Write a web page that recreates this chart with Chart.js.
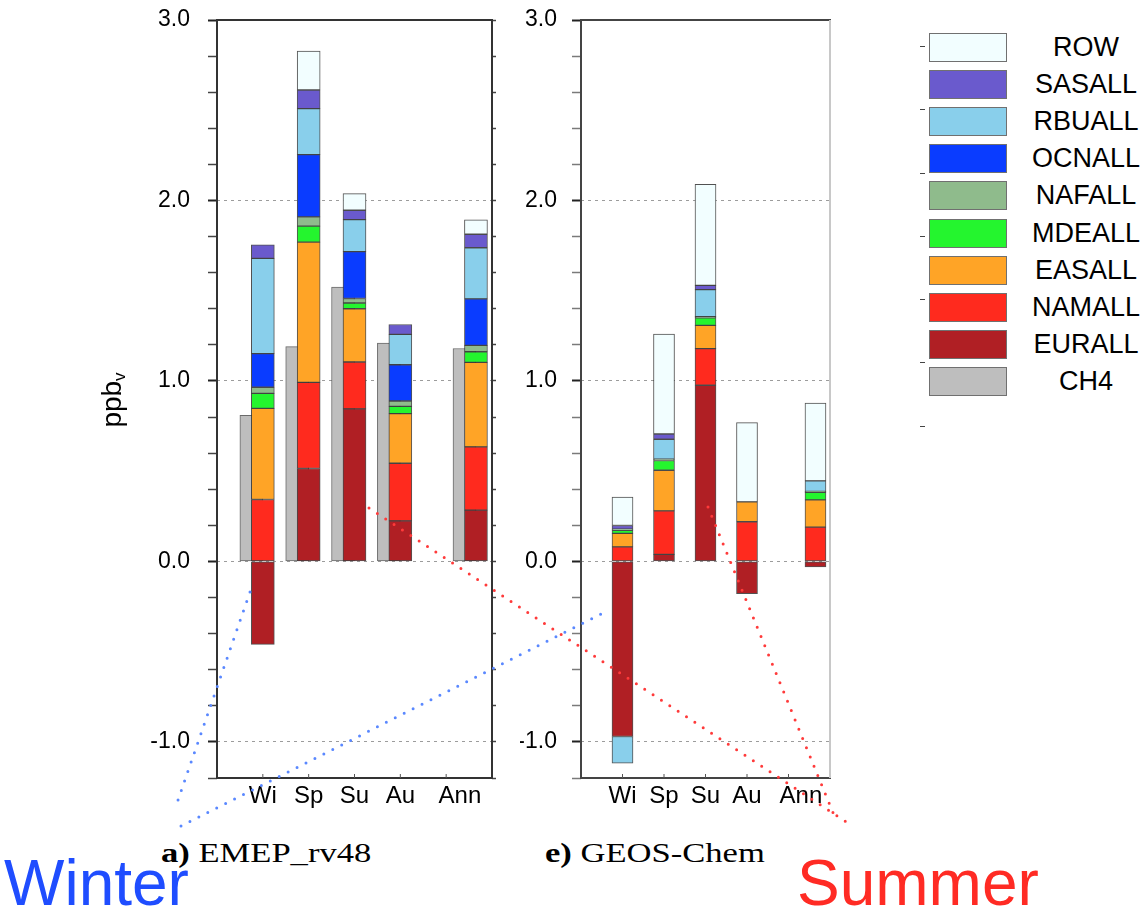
<!DOCTYPE html>
<html><head><meta charset="utf-8">
<script src="https://cdn.jsdelivr.net/npm/chart.js@4.4.1/dist/chart.umd.min.js"></script>
<style>
html,body{margin:0;padding:0;background:#fff;}
#wrap{position:relative;width:1148px;height:912px;overflow:hidden;font-family:'Liberation Sans',Arial,sans-serif;color:#000;}
canvas{position:absolute;top:0;}
#c1{left:130px;}
#c2{left:520px;}
.cap{position:absolute;top:840px;font-family:'Liberation Serif','Times New Roman',serif;font-size:27px;line-height:27px;white-space:nowrap;transform-origin:0 0;transform:scaleX(1.28);}
.big{position:absolute;top:851px;font-size:64px;line-height:64px;white-space:nowrap;}
#ylab{position:absolute;left:116px;top:400px;transform:translate(-50%,-50%) rotate(-90deg);font-size:28px;line-height:30px;white-space:nowrap;}
#ylab sub{font-size:17px;vertical-align:-4px;}
.lbox{position:absolute;left:929px;width:76px;height:27px;border:1.5px solid #707070;box-sizing:content-box;}
.ltxt{position:absolute;left:1026px;width:120px;text-align:center;font-size:27px;line-height:29px;}
.ldash{position:absolute;left:920px;width:5px;height:1px;background:#444;}
svg{position:absolute;left:0;top:0;}
</style></head>
<body><div id="wrap">
<canvas id="c1" width="380" height="830"></canvas>
<canvas id="c2" width="320" height="830"></canvas>
<div id="ylab">ppb<sub>v</sub></div>
<div class="cap" style="left:161px"><b>a)</b> EMEP_rv48</div>
<div class="cap" style="left:545px"><b>e)</b> GEOS-Chem</div>
<div class="big" style="left:4px;color:#1f4dff">Winter</div>
<div class="big" style="left:797px;color:#ff2b24">Summer</div>
<div id="legend"></div>
<svg width="1148" height="912">
  <g fill="none" stroke-width="3" stroke-linecap="round" stroke-dasharray="0 10">
    <line x1="250" y1="592" x2="178" y2="800" stroke="#5a88ff"/>
    <line x1="181" y1="826" x2="601" y2="614" stroke="#5a88ff"/>
    <line x1="369" y1="508" x2="851" y2="825" stroke="#ff3a3a"/>
    <line x1="708" y1="507" x2="834" y2="815" stroke="#ff3a3a"/>
  </g>
</svg>
</div>
<script>
// ---- categories ----
const seasons = ['Wi','Sp','Su','Au','Ann'];
const seasonPos = [1, 2, 3, 4, 5.65];      // category location on the x axis
const labelPos = [1, 2, 3, 4, 5.3];        // where the category names are written
const sources = ['EURALL','NAMALL','EASALL','MDEALL','NAFALL','OCNALL','RBUALL','SASALL','ROW'];
const yMajor = [-1, 0, 1, 2, 3];

// ---- EMEP_rv48 (ppbv) ----
const emep_CH4    = [0.81, 1.19, 1.52, 1.21, 1.18];
const emep_EURALL = [-0.46, 0.515, 0.845, 0.225, 0.284];
const emep_NAMALL = [0.343, 0.477, 0.26, 0.319, 0.351];
const emep_EASALL = [0.505, 0.777, 0.295, 0.275, 0.468];
const emep_MDEALL = [0.083, 0.089, 0.032, 0.04, 0.059];
const emep_NAFALL = [0.034, 0.051, 0.025, 0.03, 0.035];
const emep_OCNALL = [0.186, 0.345, 0.26, 0.201, 0.258];
const emep_RBUALL = [0.528, 0.255, 0.177, 0.168, 0.283];
const emep_SASALL = [0.075, 0.103, 0.052, 0.055, 0.075];
const emep_ROW    = [0, 0.216, 0.092, 0, 0.08];

// ---- GEOS-Chem (ppbv) ----
const geos_EURALL = [-0.97, 0.039, 0.976, -0.179, -0.03];
const geos_NAMALL = [0.081, 0.241, 0.203, 0.22, 0.19];
const geos_EASALL = [0.074, 0.225, 0.129, 0.11, 0.151];
const geos_MDEALL = [0.018, 0.054, 0.042, 0, 0.042];
const geos_NAFALL = [0.006, 0.008, 0.006, 0, 0.005];
const geos_OCNALL = [0, 0, 0, 0, 0];
const geos_RBUALL = [-0.148, 0.11, 0.15, 0, 0.058];
const geos_SASALL = [0.02, 0.029, 0.024, 0, 0];
const geos_ROW    = [0.157, 0.554, 0.559, 0.439, 0.432];

// ---- styles ----
const sourceColors = ['#b01f24','#ff2a1e','#ffa426','#24f52e','#8fbb8c','#0a3cff','#89cfeb','#6a5acd','#f2feff'];
const ch4Color = '#bebebe';
const barBorder = 'rgba(50,50,50,0.85)';

Chart.defaults.font.family = "'Liberation Sans', Arial, sans-serif";
Chart.defaults.color = '#000';

const isMajor = v => Math.abs(v - Math.round(v)) < 1e-6;

const framePlugin = {
  id: 'frame',
  afterDraw(chart, args, o) {
    const {ctx, chartArea: {left, right, top, bottom}} = chart;
    ctx.save();
    ctx.lineWidth = 2;
    const seg = (x1, y1, x2, y2, c) => { ctx.strokeStyle = c; ctx.beginPath(); ctx.moveTo(x1, y1); ctx.lineTo(x2, y2); ctx.stroke(); };
    seg(left - 1, top, right + 1, top, o.top);
    seg(left - 1, bottom, right + 1, bottom, o.bottom);
    seg(right, top, right, bottom, o.right);
    seg(left, top - 1, left, bottom + 1, o.left);
    // small inward ticks on the bottom axis
    ctx.lineWidth = 1;
    ctx.strokeStyle = '#555';
    [1, 2, 3, 4, 5].forEach(v => {
      const x = chart.scales.x.getPixelForValue(v);
      ctx.beginPath(); ctx.moveTo(x, bottom); ctx.lineTo(x, bottom - 4); ctx.stroke();
    });
    ctx.restore();
  }
};

function makePanel(id, vals, ch4, cfg) {
  const datasets = sources.map((name, k) => ({
    label: name, stack: 'regions', order: 0,
    data: seasonPos.map((x, i) => ({x, y: vals[k][i] === 0 ? null : vals[k][i]})),
    backgroundColor: sourceColors[k], borderColor: barBorder, borderWidth: 1,
    borderSkipped: false, barThickness: cfg.barPx, grouped: false
  }));
  if (ch4) {
    datasets.push({
      label: 'CH4', stack: 'ch4', order: 1,
      data: seasonPos.map((x, i) => ({x: x - 0.25, y: ch4[i]})),
      backgroundColor: ch4Color, borderColor: 'rgba(90,90,90,0.9)', borderWidth: 1,
      borderSkipped: false, barThickness: cfg.barPx, grouped: false
    });
  }
  const scales = {
    x: {
      type: 'linear', min: 0, max: 6, offset: false,
      afterBuildTicks: s => { s.ticks = labelPos.map(v => ({value: v})); },
      afterFit: s => { s.height = 52; s.paddingLeft = 0; s.paddingRight = 0; },
      ticks: { autoSkip: false, maxRotation: 0, padding: 4, font: {size: 24}, color: '#000',
               callback: (v, i) => seasons[i] },
      grid: { display: false, drawTicks: false },
      border: { display: false }
    },
    y: {
      position: 'left', stacked: true, min: -1.2, max: 3.0,
      afterFit: s => { s.width = cfg.yWidth; s.paddingTop = 0; s.paddingBottom = 0; },
      ticks: { stepSize: 0.2, autoSkip: false, padding: cfg.labelPad, font: {size: 23}, color: '#000',
               callback: v => (isMajor(v) && yMajor.includes(Math.round(v))) ? Number(v).toFixed(1) : '' },
      grid: {
        drawOnChartArea: true,
        color: c => (c.tick && isMajor(c.tick.value) && c.tick.value < 2.99) ? '#9c9c9c' : 'rgba(0,0,0,0)',
        lineWidth: 1, tickLength: 9,
        tickColor: c => (c.tick && isMajor(c.tick.value)) ? '#222' : cfg.minorTick,
        tickWidth: c => (c.tick && isMajor(c.tick.value)) ? 2 : 1.5
      },
      border: { display: false, dash: [3, 4] }
    }
  };
  if (cfg.rightTicks) {
    scales.y2 = {
      position: 'right', min: -1.2, max: 3.0,
      afterFit: s => { s.width = cfg.rightWidth; s.paddingTop = 0; s.paddingBottom = 0; },
      ticks: { display: false, stepSize: 0.2 },
      grid: { drawOnChartArea: false, tickLength: 4, tickColor: '#444', tickWidth: 1.5 },
      border: { display: false }
    };
  }
  return new Chart(document.getElementById(id), {
    type: 'bar',
    data: { datasets },
    options: {
      responsive: false, animation: false,
      layout: { padding: { top: 20, right: cfg.padRight, left: 0, bottom: 0 } },
      plugins: { legend: { display: false }, tooltip: { enabled: false }, frame: cfg.frame },
      scales
    },
    plugins: [framePlugin]
  });
}

makePanel('c1',
  [emep_EURALL, emep_NAMALL, emep_EASALL, emep_MDEALL, emep_NAFALL, emep_OCNALL, emep_RBUALL, emep_SASALL, emep_ROW],
  emep_CH4,
  { barPx: 23, yWidth: 87, labelPad: 18, padRight: 0, rightTicks: true, rightWidth: 18, minorTick: '#444',
    frame: { top: '#333', bottom: '#333', left: '#333', right: '#333' } });

makePanel('c2',
  [geos_EURALL, geos_NAMALL, geos_EASALL, geos_MDEALL, geos_NAFALL, geos_OCNALL, geos_RBUALL, geos_SASALL, geos_ROW],
  null,
  { barPx: 21, yWidth: 61, labelPad: 15, padRight: 10, rightTicks: false, minorTick: '#7a7a7a',
    frame: { top: '#444', bottom: '#444', left: '#444', right: '#c8c8c8' } });

// ---- legend (HTML, built from the series arrays) ----
const legend = document.getElementById('legend');
const legendNames = sources.slice().reverse().concat(['CH4']);
const legendColors = sourceColors.slice().reverse().concat([ch4Color]);
legendNames.forEach((name, i) => {
  const top = 33 + i * 37.1;
  const b = document.createElement('div');
  b.className = 'lbox'; b.style.top = top + 'px'; b.style.background = legendColors[i];
  legend.appendChild(b);
  const t = document.createElement('div');
  t.className = 'ltxt'; t.style.top = top + 'px'; t.textContent = name;
  legend.appendChild(t);
});
[46, 109, 173, 236, 299, 362, 426].forEach(y => {
  const d = document.createElement('div');
  d.className = 'ldash'; d.style.top = y + 'px';
  legend.appendChild(d);
});
</script>
</body></html>
